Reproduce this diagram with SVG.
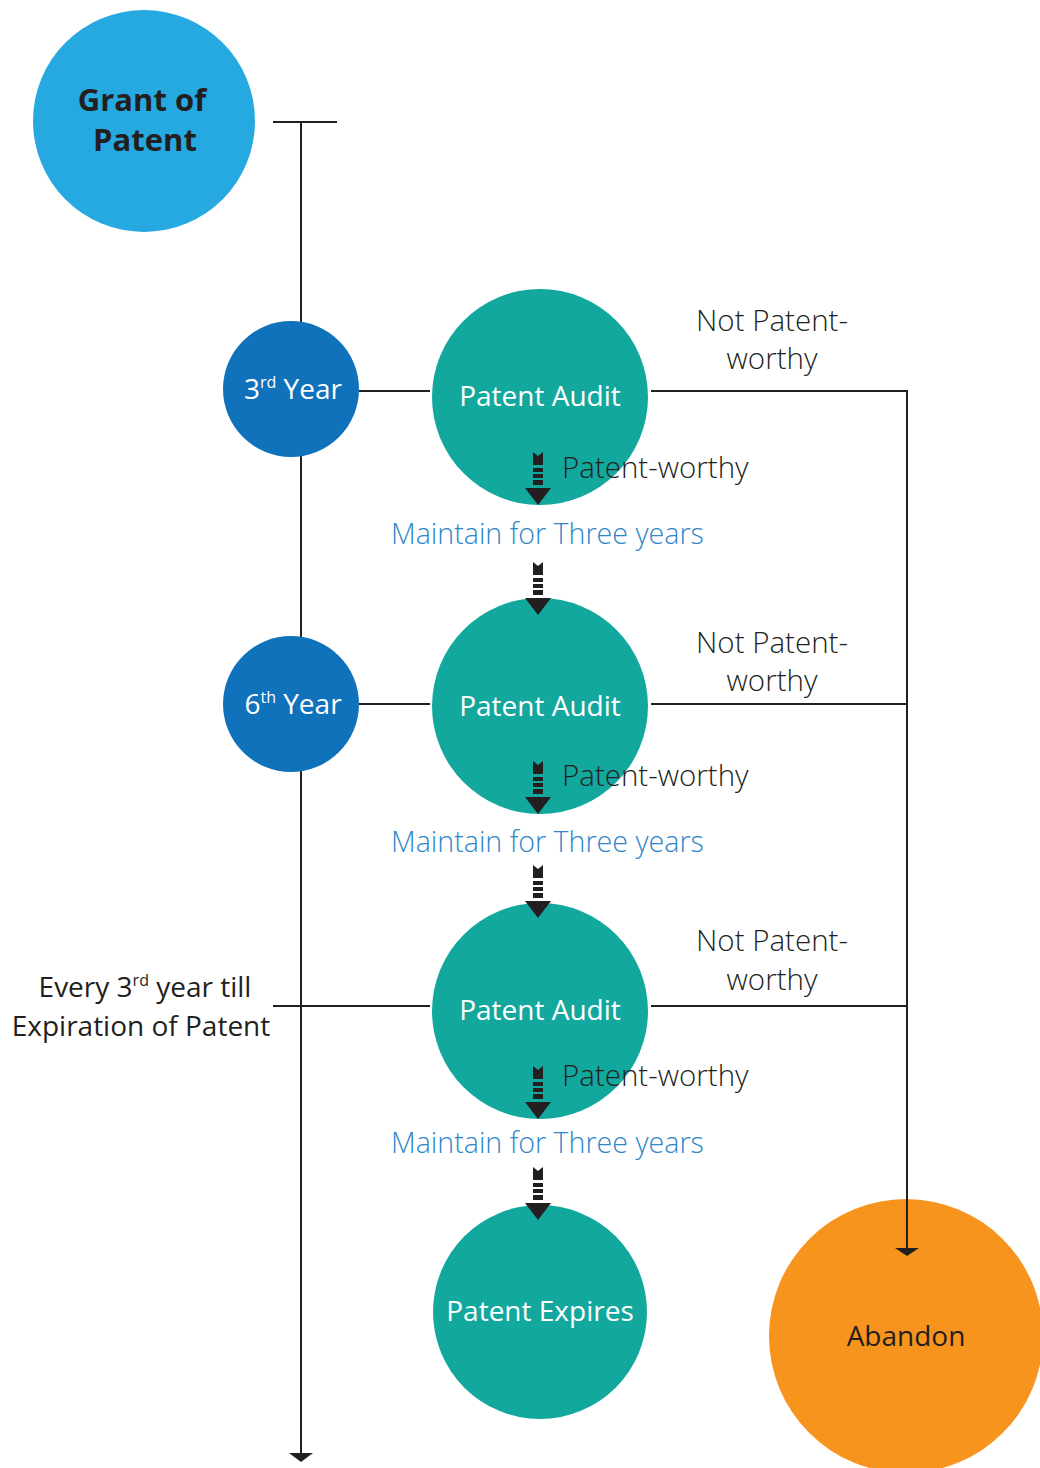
<svg xmlns="http://www.w3.org/2000/svg" xmlns:xlink="http://www.w3.org/1999/xlink" width="1040" height="1468" viewBox="0 0 1040 1468">
<style>
text{font-family:"Open Sans","Liberation Sans",sans-serif;}
.ln{stroke:#231f20;stroke-width:2;fill:none;}
.w{fill:#ffffff;font-size:28px;text-anchor:middle;}
.d{fill:#231f20;font-size:29.5px;font-weight:300;}
.b{fill:#2f86c8;font-size:28.6px;font-weight:300;}
.sup{font-size:16px;}
</style>
<defs>
<g id="darr" fill="#231f20">
<polygon points="-5,0 0,4 5,0 5,13 -5,13"/>
<rect x="-5" y="16" width="10" height="4"/>
<rect x="-5" y="22" width="10" height="4"/>
<rect x="-5" y="28" width="10" height="5"/>
<polygon points="-13,36 13,36 0,53"/>
</g>
</defs>

<g id="abandon">
<circle cx="906" cy="1336" r="137" fill="#f7941d"/>
<text x="906" y="1346" text-anchor="middle" font-size="28" fill="#231f20">Abandon</text>
</g>

<g id="connectors">
<line class="ln" x1="273" y1="122" x2="337" y2="122"/>
<line class="ln" x1="301" y1="122" x2="301" y2="1454"/>
<polygon points="289,1453 313,1453 301,1462" fill="#231f20"/>
<line class="ln" x1="359" y1="391" x2="430" y2="391"/>
<line class="ln" x1="359" y1="704" x2="430" y2="704"/>
<line class="ln" x1="273" y1="1006" x2="430" y2="1006"/>
<polyline class="ln" points="651,391 907,391 907,1249"/>
<polygon points="895,1248 919,1248 907,1256" fill="#231f20"/>
<line class="ln" x1="651" y1="704" x2="907" y2="704"/>
<line class="ln" x1="651" y1="1006" x2="907" y2="1006"/>
</g>

<g id="grant">
<circle cx="144" cy="121" r="111" fill="#25a9e0"/>
<text x="142" y="111" text-anchor="middle" font-size="31" font-weight="700" fill="#231f20">Grant of</text>
<text x="145" y="151" text-anchor="middle" font-size="31" font-weight="700" fill="#231f20">Patent</text>
</g>

<g id="year3">
<circle cx="291" cy="389" r="68" fill="#0f72bb"/>
<text class="w" x="293" y="399">3<tspan class="sup" dy="-11">rd</tspan><tspan dy="11"> Year</tspan></text>
</g>

<g id="year6">
<circle cx="291" cy="704" r="68" fill="#0f72bb"/>
<text class="w" x="293" y="714">6<tspan class="sup" dy="-11">th</tspan><tspan dy="11"> Year</tspan></text>
</g>

<g id="audit1">
<circle cx="540" cy="397" r="108" fill="#13a89e"/>
<text class="w" x="540" y="406">Patent Audit</text>
</g>
<g id="audit2">
<circle cx="540" cy="706" r="108" fill="#13a89e"/>
<text class="w" x="540" y="716">Patent Audit</text>
</g>
<g id="audit3">
<circle cx="540" cy="1011" r="108" fill="#13a89e"/>
<text class="w" x="540" y="1020">Patent Audit</text>
</g>
<g id="expires">
<circle cx="540" cy="1312" r="107" fill="#13a89e"/>
<text class="w" x="540" y="1321">Patent Expires</text>
</g>

<g id="arrows">
<use xlink:href="#darr" x="538" y="452"/>
<use xlink:href="#darr" x="538" y="562"/>
<use xlink:href="#darr" x="538" y="761"/>
<use xlink:href="#darr" x="538" y="865"/>
<use xlink:href="#darr" x="538" y="1066"/>
<use xlink:href="#darr" x="538" y="1167"/>
</g>

<g id="labels">
<text class="d" x="772" y="331" text-anchor="middle">Not Patent-</text>
<text class="d" x="772" y="369" text-anchor="middle">worthy</text>
<text class="d" x="562" y="478">Patent-worthy</text>
<text class="b" x="391" y="544">Maintain for Three years</text>

<text class="d" x="772" y="653" text-anchor="middle">Not Patent-</text>
<text class="d" x="772" y="691" text-anchor="middle">worthy</text>
<text class="d" x="562" y="786">Patent-worthy</text>
<text class="b" x="391" y="852">Maintain for Three years</text>

<text class="d" x="772" y="951" text-anchor="middle">Not Patent-</text>
<text class="d" x="772" y="990" text-anchor="middle">worthy</text>
<text class="d" x="562" y="1086">Patent-worthy</text>
<text class="b" x="391" y="1153">Maintain for Three years</text>

<text x="145" y="997" text-anchor="middle" font-size="28" fill="#231f20">Every 3<tspan class="sup" dy="-11">rd</tspan><tspan dy="11"> year till</tspan></text>
<text x="141" y="1036" text-anchor="middle" font-size="28" fill="#231f20">Expiration of Patent</text>
</g>
</svg>
